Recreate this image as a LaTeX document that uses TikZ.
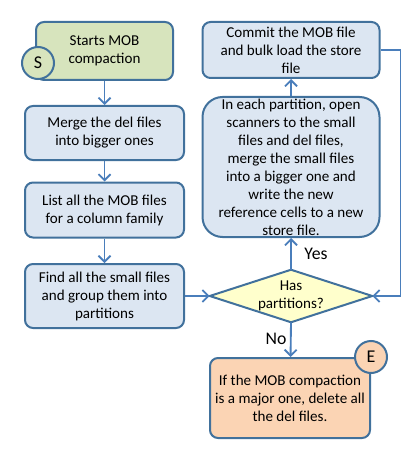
\documentclass[tikz,border=0pt]{standalone}
\usepackage{fontspec}
\setmainfont{Carlito}
\usetikzlibrary{arrows.meta,backgrounds}
\newdimen\px \px=0.75pt
\definecolor{edge}{RGB}{65,113,156}
\definecolor{flow}{RGB}{74,126,187}
\definecolor{boxfill}{RGB}{220,230,242}
\definecolor{startfill}{RGB}{215,228,189}
\definecolor{askfill}{RGB}{255,255,204}
\definecolor{endfill}{RGB}{251,212,180}
\tikzset{
  stepbox/.style={draw=edge, line width=1.5pt, fill=boxfill, rounded corners=8\px, align=center, inner sep=0pt, font=\fontsize{11.3}{13.5}\selectfont},
  badge/.style={circle, draw=edge, line width=1.5pt, minimum size=32\px, inner sep=0pt, font=\fontsize{13.5}{15}\selectfont},
  flowarr/.style={draw=flow, line width=1.4pt, -{Straight Barb[length=4.5pt,width=9pt]}},
  answer/.style={font=\fontsize{13.3}{15}\selectfont},
}
\begin{document}
\begin{tikzpicture}[x=\px, y=-\px]
\useasboundingbox (0,0) rectangle (412,449);

% left column
\node [stepbox, fill=startfill, minimum width=137\px, minimum height=58\px] (start) at (104.5,51) {Starts MOB\\compaction};
\node [badge, fill=startfill] (s) at (38,63) {S};
\node [stepbox, minimum width=159\px, minimum height=54\px] (merge) at (104.5,133) {Merge the del files\\into bigger ones};
\node [stepbox, minimum width=159\px, minimum height=55\px] (list) at (104.5,210) {List all the MOB files\\for a column family};
\node [stepbox, minimum width=159\px, minimum height=64\px] (find) at (104.5,296) {Find all the small files\\and group them into\\partitions};

% right column
\node [stepbox, minimum width=177\px, minimum height=56\px] (commit) at (291,50) {Commit the MOB file\\and bulk load the store\\file};
\node [stepbox, rounded corners=20\px, minimum width=177\px, minimum height=140\px] (part) at (291,167) {In each partition, open\\scanners to the small\\files and del files,\\merge the small files\\into a bigger one and\\write the new\\reference cells to a new\\store file.};
\node [align=center, inner sep=0pt, minimum width=162\px, minimum height=52\px, font=\fontsize{11.3}{13.5}\selectfont] (dec) at (291,296) {Has\\partitions?}; % decision
\begin{scope}[on background layer]
\draw [draw=edge, line width=1.5pt, fill=askfill] (dec.north) -- (dec.east) -- (dec.south) -- (dec.west) -- cycle;
\end{scope}
\node [stepbox, fill=endfill, minimum width=160\px, minimum height=80\px] (finish) at (290,398) {If the MOB compaction\\is a major one, delete all\\the del files.};
\node [badge, fill=endfill] (e) at (finish.north east) {E};

% connectors
\draw [flowarr] (start) -- (merge);
\draw [flowarr] (merge) -- (list);
\draw [flowarr] (list) -- (find);
\draw [flowarr] (find.east) -- (dec.west);
\draw [flowarr] (dec.north) -- (part);
\draw [flowarr] (part) -- (commit);
\draw [flowarr] (commit.east) -- ++(20,0) |- (dec.east);
\draw [flowarr] (dec.south) -- (finish);

\node [answer] (yes) at (316,254) {Yes};
\node [answer] (no) at (276,339) {No};

\end{tikzpicture}
\end{document}
